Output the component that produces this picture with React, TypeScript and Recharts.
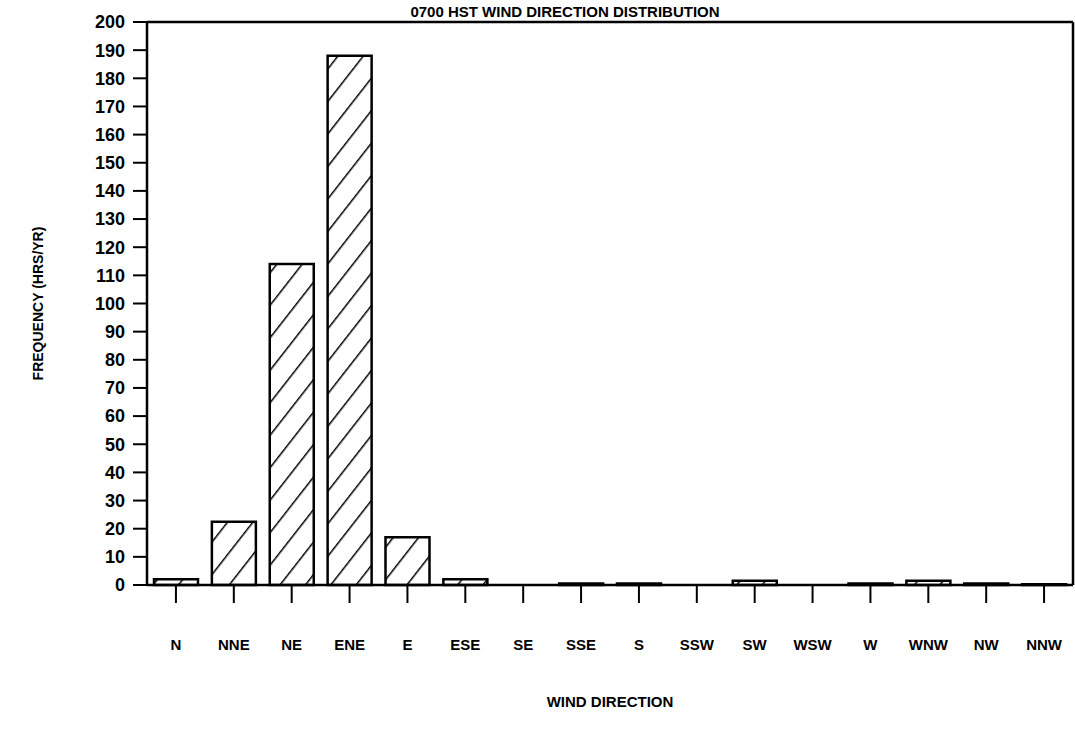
import React from "react";
import {
  BarChart,
  Bar,
  XAxis,
  YAxis,
  ReferenceLine,
  Label,
} from "recharts";

// wind direction sectors and hours per year at 0700 HST
const directions = [
  "N", "NNE", "NE", "ENE", "E", "ESE", "SE", "SSE",
  "S", "SSW", "SW", "WSW", "W", "WNW", "NW", "NNW",
];
const hours = [2, 22.5, 114, 188, 17, 2, 0, 0.5, 0.5, 0, 1.5, 0, 0.5, 1.5, 0.5, 0.3];
const yTicks = [
  0, 10, 20, 30, 40, 50, 60, 70, 80, 90, 100,
  110, 120, 130, 140, 150, 160, 170, 180, 190, 200,
];

const data = directions.map((dir, i) => ({ dir, hours: hours[i] }));

const font = "'Liberation Sans', Arial, sans-serif";

const XTick = (props: any) => {
  const { x, y, payload } = props;
  return (
    <g>
      <line x1={x} y1={y - 8} x2={x} y2={y + 10} stroke="#000" strokeWidth={2} />
      <text
        x={x}
        y={y + 57}
        textAnchor="middle"
        fontFamily={font}
        fontWeight="bold"
        fontSize={15}
        fill="#000"
      >
        {payload.value}
      </text>
    </g>
  );
};

export default function App() {
  return (
    <div style={{ position: "absolute", left: 0, top: 0, width: 1075, height: 743, background: "#fff" }}>
      <div
        style={{
          position: "absolute",
          top: 3,
          left: 0,
          width: 1130,
          textAlign: "center",
          fontFamily: font,
          fontWeight: "bold",
          fontSize: 15,
          zIndex: 1,
        }}
      >
        0700 HST WIND DIRECTION DISTRIBUTION
      </div>
      <BarChart
        width={1075}
        height={743}
        data={data}
        margin={{ top: 22, right: 0, left: 0, bottom: 0 }}
        barSize={44}
      >
        <defs>
          <pattern
            id="hatch"
            patternUnits="userSpaceOnUse"
            width={20}
            height={20}
            patternTransform="rotate(38)"
          >
            <rect width={20} height={20} fill="#fff" />
            <line x1={0} y1={0} x2={0} y2={20} stroke="#000" strokeWidth={3} />
          </pattern>
        </defs>
        <XAxis
          dataKey="dir"
          height={158}
          interval={0}
          axisLine={{ stroke: "#000", strokeWidth: 2.5 }}
          tickLine={false}
          tick={<XTick />}
        >
          <Label
            value="WIND DIRECTION"
            position="insideBottom"
            offset={36}
            style={{ fontFamily: font, fontWeight: "bold", fontSize: 15, fill: "#000" }}
          />
        </XAxis>
        <YAxis
          width={147}
          domain={[0, 200]}
          ticks={yTicks}
          interval={0}
          tickSize={14}
          tickMargin={8}
          axisLine={{ stroke: "#000", strokeWidth: 2.5 }}
          tickLine={{ stroke: "#000", strokeWidth: 2 }}
          tick={{ fontFamily: font, fontWeight: "bold", fontSize: 18, fill: "#000" }}
        >
          <Label
            value="FREQUENCY (HRS/YR)"
            angle={-90}
            position="insideLeft"
            offset={38}
            style={{ fontFamily: font, fontWeight: "bold", fontSize: 14, fill: "#000", textAnchor: "middle" }}
          />
        </YAxis>
        <YAxis
          yAxisId="right"
          orientation="right"
          width={2}
          tick={false}
          tickLine={false}
          axisLine={{ stroke: "#000", strokeWidth: 2.5 }}
        />
        <ReferenceLine y={200} stroke="#000" strokeWidth={2.5} />
        <Bar
          dataKey="hours"
          fill="url(#hatch)"
          stroke="#000"
          strokeWidth={2.5}
          isAnimationActive={false}
        />
      </BarChart>
    </div>
  );
}
